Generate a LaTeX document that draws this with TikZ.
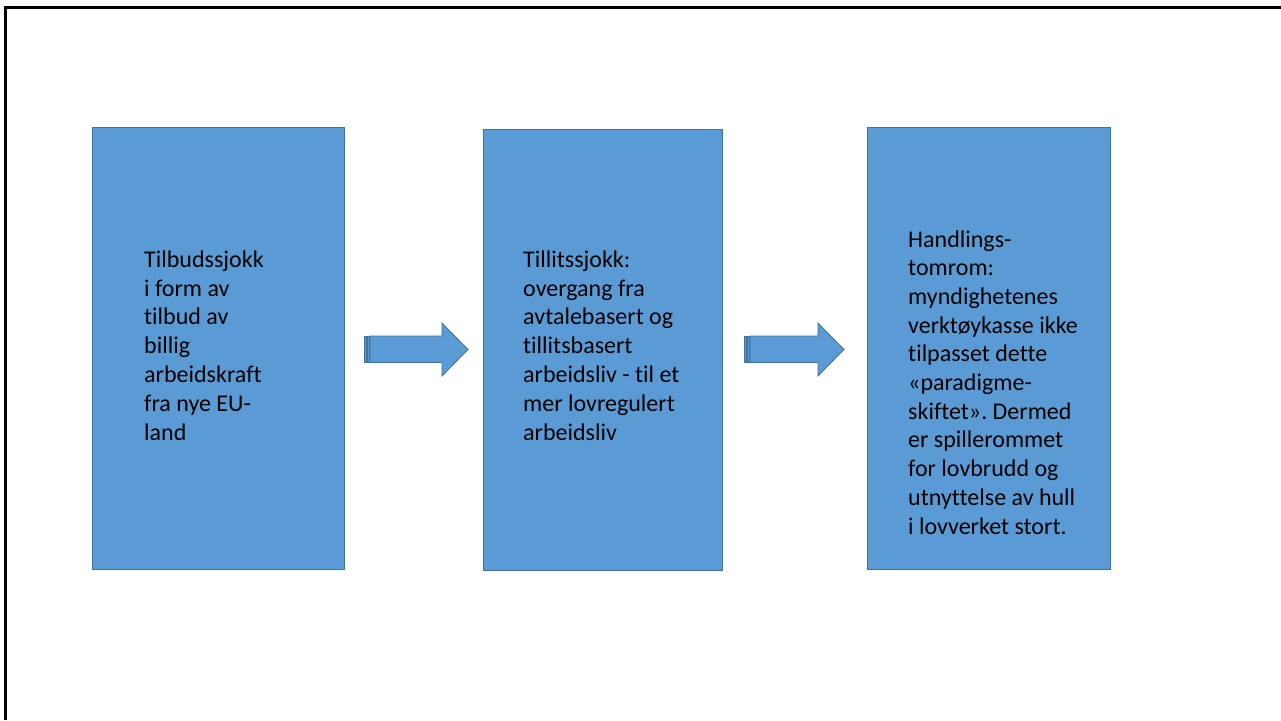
\documentclass[tikz,border=0pt]{standalone}
\usepackage{fontspec}
\setmainfont{Carlito}[Ligatures=CommonOff]
\frenchspacing
\definecolor{boxfill}{HTML}{5B9BD5}
\definecolor{boxline}{HTML}{41719C}
\tikzset{
  blockbox/.style={draw=boxline, fill=boxfill, line width=1pt},
  arrowshape/.style={draw=boxline, fill=boxfill, line width=0.8pt, line join=miter},
  boxtext/.style={anchor=base west, align=left, inner sep=0pt, font=\fontsize{24}{28.8}\selectfont, text=black}
}
\begin{document}
\begin{tikzpicture}[x=1pt,y=-1pt]
\useasboundingbox (0,0) rectangle (1281,720);
\fill[white] (0,0) rectangle (1281,720);
% frame
\coordinate (fa) at (5.5,720);
\coordinate (fb) at (5.5,7.5);
\coordinate (fc) at (1281,7.5);
\draw[line width=3pt, black] (fa) -- (fb) -- (fc);
% boxes
\path[blockbox] (92,127) rectangle (344,569) coordinate (b1);
\path[blockbox] (483,129) rectangle (722,570) coordinate (b2);
\path[blockbox] (867,127) rectangle (1110,569) coordinate (b3);
% text (base anchor = baseline of last line)
\node[boxtext] (t1) at (144,440) {Tilbudssjokk\\i form av\\tilbud av\\billig\\arbeidskraft\\fra nye EU-\\land};
\node[boxtext] (t2) at (523,440) {Tillitssjokk:\\overgang fra\\avtalebasert og\\tillitsbasert\\arbeidsliv - til et\\mer lovregulert\\arbeidsliv};
\node[boxtext, font=\fontsize{24}{28.7}\selectfont] (t3) at (908,534) {Handlings-\\tomrom:\\myndighetenes\\verktøykasse ikke\\tilpasset dette\\«paradigme-\\skiftet». Dermed\\er spillerommet\\for lovbrudd og\\utnyttelse av hull\\i lovverket stort.};
% arrow 1
\path[arrowshape] (364,336) rectangle (366,362.5);
\path[arrowshape] (367,336) rectangle (369,362.5);
\path[arrowshape] (370,336) -- (442,336) -- (442,323) -- (468,349.5) -- (442,376) -- (442,362.5) -- (370,362.5) -- cycle;
% arrow 2
\path[arrowshape] (744,336) rectangle (746,362.5);
\path[arrowshape] (747,336) rectangle (749,362.5);
\path[arrowshape] (750,336) -- (818,336) -- (818,323) -- (844,349.5) -- (818,376) -- (818,362.5) -- (750,362.5) -- cycle;
\end{tikzpicture}
\end{document}
